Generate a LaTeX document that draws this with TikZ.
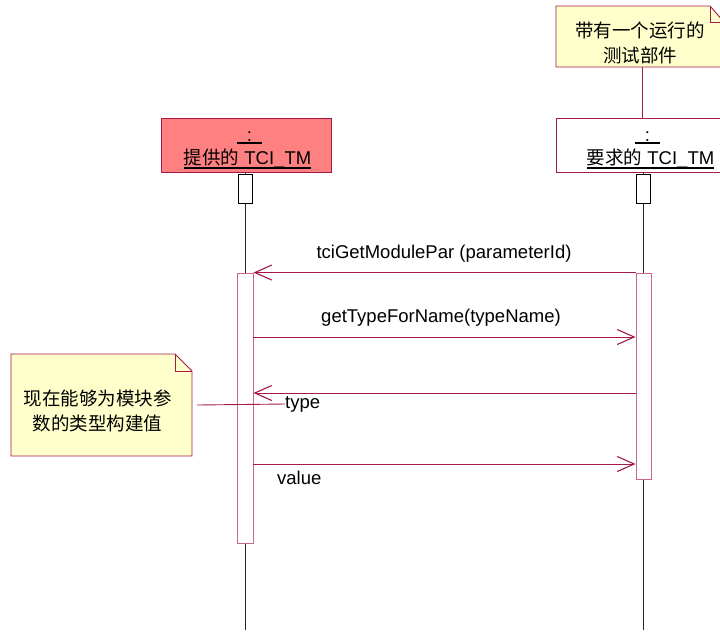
\documentclass[tikz,border=0pt]{standalone}
\usepackage{fontspec}
\setmainfont{Liberation Sans}
\newfontfamily\cjk{Noto Sans CJK SC}
\usetikzlibrary{arrows.meta}
\definecolor{frame}{RGB}{165,25,70}
\definecolor{actc}{RGB}{205,100,140}
\definecolor{notefill}{RGB}{255,255,204}
\definecolor{headfill}{RGB}{255,128,128}
\tikzset{
  lbl/.style={inner sep=0pt, font=\fontsize{18.5}{22}\selectfont},
  head/.style={draw=frame, line width=0.9pt, minimum width=172pt, minimum height=54pt, inner sep=0pt},
  small/.style={draw=black, fill=white, line width=0.8pt, minimum width=14pt, minimum height=29pt, inner sep=0pt},
  actbox/.style={draw=actc, fill=white, line width=0.9pt, minimum width=16pt, inner sep=0pt},
  life/.style={draw=black!85, line width=0.8pt},
  msg/.style={draw=frame, line width=0.8pt, -{Straight Barb[length=17pt,width=15pt,line width=1.1pt]}},
  notebox/.style={draw=frame, fill=notefill, line width=0.9pt},
  link/.style={draw=frame, line width=0.9pt},
  uline/.style={draw=black, line width=1.6pt}
}
\begin{document}
\begin{tikzpicture}[x=1pt,y=-1pt]
\useasboundingbox (0,0) rectangle (720,633);
\clip (0,0) rectangle (720,633);

% top right note
\draw[notebox] (556,6) -- (710,6) -- (724,22) -- (724,67) -- (556,67) -- cycle;
\draw[link] (710,6) -- (710,22) -- (724,22);
\node[lbl] (n1a) at (640,30) {\cjk 带有一个运行的};
\node[lbl] (n1b) at (640,55) {\cjk 测试部件};
\coordinate (n1bot) at (642,67);

% heads
\node[head, fill=headfill, minimum width=170pt] (hL) at (246,145) {};
\node[head, fill=white] (hR) at (642,145) {};
\coordinate (u1) at (0,143);
\coordinate (u2) at (0,168);
\node[lbl, minimum width=25pt] (hLc) at (249.5,137) {:};
\node[lbl] (hLn) at (247.5,159) {{\cjk 提供的} TCI\_TM};
\node[lbl, minimum width=25pt] (hRc) at (647.5,137) {:};
\node[lbl] (hRn) at (650.5,159) {{\cjk 要求的} TCI\_TM};
\draw[uline] (hLc.west |- u1) -- (hLc.east |- u1);
\draw[uline] (hLn.west |- u2) -- (hLn.east |- u2);
\draw[uline] (hRc.west |- u1) -- (hRc.east |- u1);
\draw[uline] (hRn.west |- u2) -- (hRn.east |- u2);
\draw[link] (n1bot) -- (n1bot |- hR.north);

% lifelines
\coordinate (endL) at (245,630);
\coordinate (endR) at (643,630);
\draw[life] (hL.south -| endL) -- (endL);
\draw[life] (hR.south -| endR) -- (endR);

% small boxes
\node[small] (sL) at (245,188.5) {};
\node[small] (sR) at (643,188.5) {};

% activations
\node[actbox, minimum height=270pt] (aL) at (245,408) {};
\node[actbox, minimum width=15pt, minimum height=206pt] (aR) at (643.5,376) {};

% messages
\coordinate (y2) at (0,337);
\coordinate (y3) at (0,393);
\coordinate (y4) at (0,464);
\draw[msg] (aR.north west) -- (aL.north east);
\node[lbl] (m1) at (444,254) {tciGetModulePar (parameterId)};
\draw[msg] (aL.east |- y2) -- (aR.west |- y2);
\node[lbl] (m2) at (441,318) {getTypeForName(typeName)};
\draw[msg] (aR.west |- y3) -- (aL.east |- y3);
\node[lbl, anchor=west] (m3) at (285,404) {type};
\draw[msg] (aL.east |- y4) -- (aR.west |- y4);
\node[lbl, anchor=west] (m4) at (277,478) {value};

% left note
\draw[notebox] (11,354) -- (175,354) -- (192,371) -- (192,456) -- (11,456) -- cycle;
\draw[link] (175,354) -- (175,371) -- (192,371);
\node[lbl] (n2a) at (97.5,398) {\cjk 现在能够为模块参};
\node[lbl] (n2b) at (97.5,423) {\cjk 数的类型构建值};
\coordinate (n2r) at (197,405);
\draw[link] (n2r) -- (m3.west);
\end{tikzpicture}
\end{document}
